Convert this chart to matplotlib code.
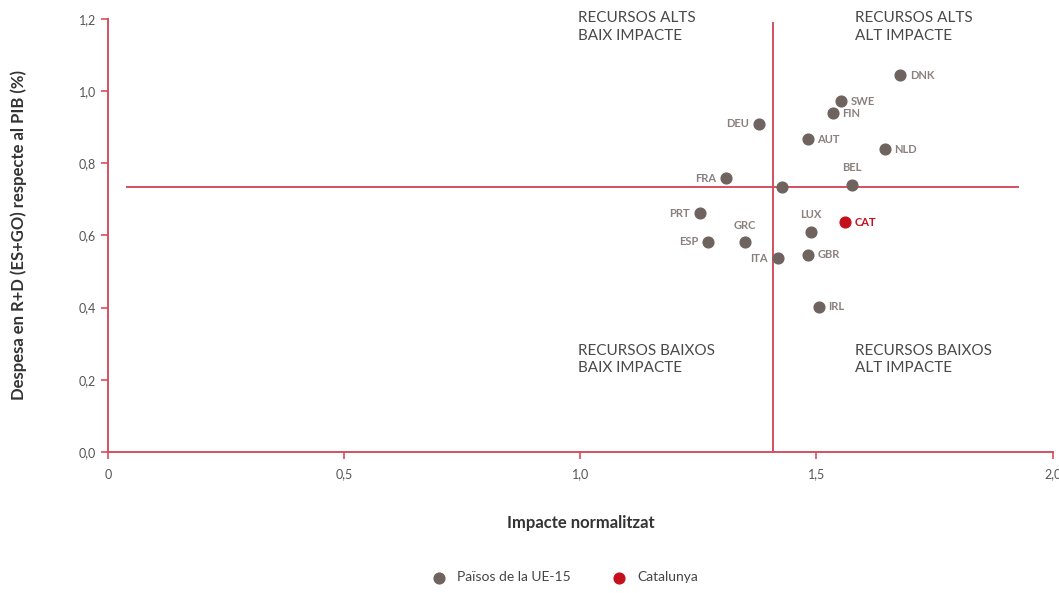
import matplotlib.pyplot as plt

plt.rcParams['font.family'] = ['Lato', 'DejaVu Sans']

# UE-15 countries: normalised impact vs R+D spending (% of GDP)
countries = ['DNK', 'SWE', 'FIN', 'DEU', 'AUT', 'NLD', 'FRA', '', 'BEL',
             'PRT', 'LUX', 'GRC', 'ESP', 'GBR', 'ITA', 'IRL']
impact = [1.677, 1.551, 1.534, 1.378, 1.481, 1.644, 1.308, 1.426, 1.575,
          1.253, 1.488, 1.348, 1.270, 1.481, 1.418, 1.505]
spend = [1.044, 0.972, 0.939, 0.909, 0.867, 0.839, 0.759, 0.734, 0.739,
         0.662, 0.609, 0.582, 0.582, 0.546, 0.537, 0.402]

cat_impact = [1.560]
cat_spend = [0.637]

# quadrant split
mean_impact = 1.407
mean_spend = 0.734

xticks = [0, 0.5, 1.0, 1.5, 2.0]
yticks = [0, 0.2, 0.4, 0.6, 0.8, 1.0, 1.2]

# label offsets in points
offsets = {
    'DNK': (7, 0, 'left'), 'SWE': (7, 0, 'left'), 'FIN': (7, 0, 'left'),
    'DEU': (-7, 0, 'right'), 'AUT': (7, 0, 'left'), 'NLD': (7, 0, 'left'),
    'FRA': (-7, 0, 'right'), 'BEL': (0, 13, 'center'), 'PRT': (-7, 0, 'right'),
    'LUX': (0, 13, 'center'), 'GRC': (0, 12, 'center'), 'ESP': (-7, 0, 'right'),
    'GBR': (7, 0, 'left'), 'ITA': (-7, 0, 'right'), 'IRL': (7, 0, 'left'),
}

red = '#d4505f'
grey = '#6f6360'
catred = '#c4101c'

fig = plt.figure(figsize=(10.59, 5.93), dpi=100)
ax = fig.add_axes([0.102, 0.238, 0.892, 0.730])

ax.plot([mean_impact, mean_impact], [0, 1.19], color=red, lw=1.4, zorder=1)
ax.plot([0.04, 1.926], [mean_spend, mean_spend], color=red, lw=1.4, zorder=1)

ax.scatter(impact, spend, s=60, color=grey, zorder=3, label='Països de la UE-15')
ax.scatter(cat_impact, cat_spend, s=60, color=catred, zorder=3, label='Catalunya')

for name, x, y in zip(countries, impact, spend):
    if not name:
        continue
    dx, dy, ha = offsets[name]
    ax.annotate(name, (x, y), xytext=(dx, dy), textcoords='offset points',
                ha=ha, va='center', fontsize=8, color='#8a807d', fontweight='bold')
ax.annotate('CAT', (cat_impact[0], cat_spend[0]), xytext=(7, 0), textcoords='offset points',
            ha='left', va='center', fontsize=8, color=catred, fontweight='bold')

qkw = dict(fontsize=11, color='#4a4a4a', va='top', ha='left', linespacing=1.35, clip_on=False)
ax.text(0.995, 1.222, 'RECURSOS ALTS\nBAIX IMPACTE', **qkw)
ax.text(1.581, 1.222, 'RECURSOS ALTS\nALT IMPACTE', **qkw)
ax.text(0.995, 0.300, 'RECURSOS BAIXOS\nBAIX IMPACTE', **qkw)
ax.text(1.581, 0.300, 'RECURSOS BAIXOS\nALT IMPACTE', **qkw)

ax.set_xlim(0, 2.0)
ax.set_ylim(0, 1.2)
ax.set_xticks(xticks)
ax.set_xticklabels(['0' if t == 0 else f'{t:.1f}'.replace('.', ',') for t in xticks])
ax.set_yticks(yticks)
ax.set_yticklabels([f'{t:.1f}'.replace('.', ',') for t in yticks])
ax.tick_params(colors=red, labelcolor='#555555', labelsize=9, length=5, width=1.2)
ax.tick_params(axis='x', pad=7)

for side in ['top', 'right']:
    ax.spines[side].set_visible(False)
for side in ['left', 'bottom']:
    ax.spines[side].set_color(red)
    ax.spines[side].set_linewidth(1.4)

ax.set_xlabel('Impacte normalitzat', fontsize=12, fontweight='bold', color='#333333', labelpad=25)
ax.set_ylabel('Despesa en R+D (ES+GO) respecte al PIB (%)', fontsize=12,
              fontweight='bold', color='#333333', labelpad=37)

fig.legend(loc='lower center', bbox_to_anchor=(0.53, -0.005), ncol=2, frameon=False,
           fontsize=10, handletextpad=0.3, columnspacing=2.5, markerscale=1.0,
           labelcolor='#444444')

fig.savefig('out.png', dpi=100)
